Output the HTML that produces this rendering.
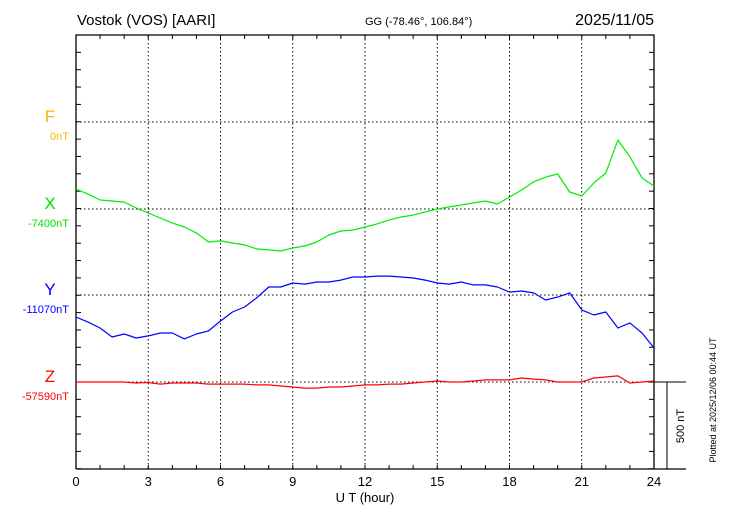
<!DOCTYPE html>
<html><head><meta charset="utf-8"><style>
body{margin:0;background:#fff}
svg{display:block;font-family:"Liberation Sans",sans-serif}
</style></head><body>
<svg id="chart" width="730" height="520" viewBox="0 0 730 520">
<text x="77" y="25" font-size="15">Vostok (VOS)  [AARI]</text>
<text x="365" y="25" font-size="11">GG (-78.46°, 106.84°)</text>
<text x="654" y="25" font-size="16" text-anchor="end">2025/11/05</text>
<g id="grid"></g>
<g id="axes"></g>
<g id="series"></g>
<text x="50" y="122" font-size="17" fill="#f5b800" text-anchor="middle">F</text>
<text x="69" y="140" font-size="11" fill="#f5b800" text-anchor="end">0nT</text>
<text x="50" y="209" font-size="17" fill="#00e000" text-anchor="middle">X</text>
<text x="69" y="227" font-size="11" fill="#00e000" text-anchor="end">-7400nT</text>
<text x="50" y="295" font-size="17" fill="#0000ff" text-anchor="middle">Y</text>
<text x="69" y="313" font-size="11" fill="#0000ff" text-anchor="end">-11070nT</text>
<text x="50" y="382" font-size="17" fill="#ff0000" text-anchor="middle">Z</text>
<text x="69" y="400" font-size="11" fill="#ff0000" text-anchor="end">-57590nT</text>
<text x="365" y="502" font-size="13" text-anchor="middle">U T (hour)</text>
<text transform="translate(684,426) rotate(-90)" font-size="11" text-anchor="middle">500 nT</text>
<text transform="translate(716,400) rotate(-90)" font-size="9" text-anchor="middle">Plotted at 2025/12/06 00:44 UT</text>
</svg>
<script>
const hours=[0,0.5,1,1.5,2,2.5,3,3.5,4,4.5,5,5.5,6,6.5,7,7.5,8,8.5,9,9.5,10,10.5,11,11.5,12,12.5,13,13.5,14,14.5,15,15.5,16,16.5,17,17.5,18,18.5,19,19.5,20,20.5,21,21.5,22,22.5,23,23.5,24];
const xValues=[115,86,52,46,40,6,-23,-52,-81,-104,-138,-190,-184,-196,-207,-230,-236,-242,-225,-213,-190,-150,-127,-121,-104,-86,-63,-46,-35,-17,0,12,23,35,46,29,69,109,156,184,202,98,75,150,207,397,300,179,132];
const yValues=[-127,-156,-190,-242,-225,-248,-236,-219,-219,-253,-225,-207,-150,-98,-69,-17,46,46,69,63,75,75,86,104,104,109,109,104,98,86,69,63,75,58,58,46,17,23,12,-29,-12,12,-86,-115,-98,-190,-161,-219,-305];
const zValues=[0,0,0,0,0,-6,-3,-12,-6,-6,-6,-12,-12,-12,-12,-17,-17,-23,-29,-35,-35,-29,-29,-23,-17,-17,-12,-12,-6,0,6,0,0,6,12,12,12,23,17,12,0,0,0,23,29,35,-6,0,6];
const xTicks=[0,3,6,9,12,15,18,21,24];
const NS="http://www.w3.org/2000/svg";
const L=76,R=654,T=35,B=469,PX=86.75/500;
const bases=[122,209,295,382];
const sx=h=>L+h*(R-L)/24;
const sy=(base,v)=>base-v*PX;
function mk(parent,tag,attrs){const e=document.createElementNS(NS,tag);for(const k in attrs)e.setAttribute(k,attrs[k]);document.getElementById(parent).appendChild(e);return e;}
// grid
for(const h of xTicks){ if(h===0||h===24)continue;
 const g=mk('grid','line',{x1:sx(h),x2:sx(h),y1:T,y2:B,stroke:'#000','stroke-width':1,'stroke-dasharray':'1.5,2.5'});
 
 }
for(const b of bases){
 const g=mk('grid','line',{x1:L,x2:R,y1:b,y2:b,stroke:'#000','stroke-width':1,'stroke-dasharray':'1.5,2.5'});
 
 }
// frame
const fr=mk('axes','path',{d:`M${L},${B}V${T}H${R}V${B}`,fill:'none',stroke:'#000','stroke-width':1.3});


const bx=mk('axes','line',{x1:L,x2:686,y1:B,y2:B,stroke:'#000','stroke-width':1.3});


const zl=mk('axes','line',{x1:R,x2:686,y1:382,y2:382,stroke:'#000','stroke-width':1});


const sb=mk('axes','line',{x1:667,x2:667,y1:382,y2:B,stroke:'#000','stroke-width':1});


// hour ticks
for(let h=0;h<=24;h++){
 const t1=mk('axes','line',{x1:sx(h),x2:sx(h),y1:T,y2:T+4,stroke:'#000'});
 
 
 const t2=mk('axes','line',{x1:sx(h),x2:sx(h),y1:B,y2:B-4,stroke:'#000'});
 
 }
// vertical minor ticks every 100nT
for(let i=0;i<=25;i++){const y=T+i*86.75/5; if(y>B+0.5)break;
 const t1=mk('axes','line',{x1:L,x2:L+5,y1:y,y2:y,stroke:'#000'});
 
 
 const t2=mk('axes','line',{x1:R,x2:R-5,y1:y,y2:y,stroke:'#000'});
 
 }
for(const h of xTicks){
 const t=mk('axes','text',{x:sx(h),y:486,'font-size':13,'text-anchor':'middle'});
 t.textContent=h;
 
 }
// series
function line(vals,base,color,name){
 const d=vals.map((v,i)=>(i?'L':'M')+sx(hours[i]).toFixed(1)+','+sy(base,v).toFixed(1)).join('');
 const p=mk('series','path',{d:d,fill:'none',stroke:color,'stroke-width':1.2,'stroke-linejoin':'round'});
 
 }
line(xValues,209,'#00ee00','x-component-line');
line(yValues,295,'#0000ff','y-component-line');
line(zValues,382,'#ff0000','z-component-line');
</script>
</body></html>
